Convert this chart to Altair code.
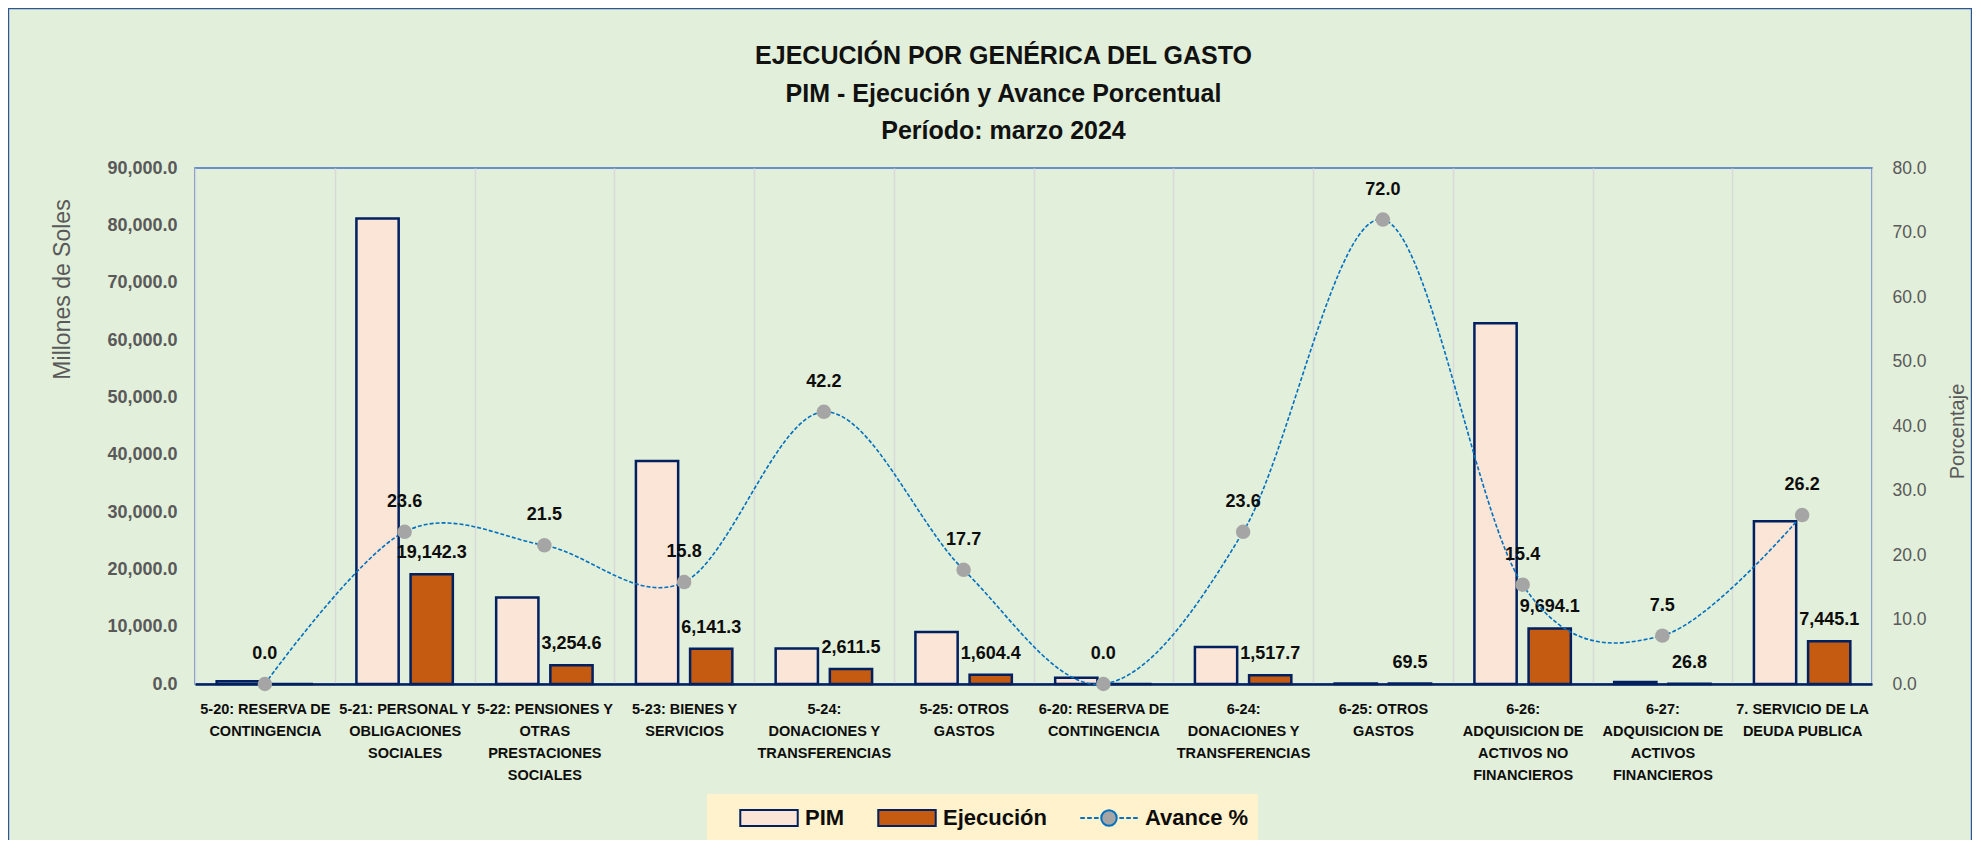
import altair as alt
import pandas as pd

# ---------------- data ----------------
categorias = [
    "5-20: RESERVA DE|CONTINGENCIA",
    "5-21: PERSONAL Y|OBLIGACIONES|SOCIALES",
    "5-22: PENSIONES Y|OTRAS|PRESTACIONES|SOCIALES",
    "5-23: BIENES Y|SERVICIOS",
    "5-24:|DONACIONES Y|TRANSFERENCIAS",
    "5-25: OTROS|GASTOS",
    "6-20: RESERVA DE|CONTINGENCIA",
    "6-24:|DONACIONES Y|TRANSFERENCIAS",
    "6-25: OTROS|GASTOS",
    "6-26:|ADQUISICION DE|ACTIVOS NO|FINANCIEROS",
    "6-27:|ADQUISICION DE|ACTIVOS|FINANCIEROS",
    "7. SERVICIO DE LA|DEUDA PUBLICA",
]
pim = [500, 81200, 15100, 38900, 6190, 9060, 1100, 6450, 97, 62900, 360, 28400]
ejecucion = [0.0, 19142.3, 3254.6, 6141.3, 2611.5, 1604.4, 0.0, 1517.7, 69.5, 9694.1, 26.8, 7445.1]
avance = [0.0, 23.6, 21.5, 15.8, 42.2, 17.7, 0.0, 23.6, 72.0, 15.4, 7.5, 26.2]
series = ["PIM", "Ejecución", "Avance %"]
titulo = ["EJECUCIÓN POR GENÉRICA DEL GASTO", "PIM - Ejecución y Avance Porcentual", "Período: marzo 2024"]
ticks_soles = [0, 10000, 20000, 30000, 40000, 50000, 60000, 70000, 80000, 90000]
ticks_pct = [0, 10, 20, 30, 40, 50, 60, 70, 80]

# ---------------- tables ----------------
bars_df = pd.DataFrame({
    "cat": categorias * 2,
    "serie": ["PIM"] * len(categorias) + ["Ejecución"] * len(categorias),
    "valor": pim + ejecucion,
})
ejec_df = pd.DataFrame({"cat": categorias, "serie": "Ejecución", "valor": ejecucion})
av_df = pd.DataFrame({"cat": categorias, "serie": "Avance %", "avance": avance})

FONT = "Liberation Sans, Arial, sans-serif"
W, H = 1677, 516

RECT = "M-1,-0.28H1V0.28H-1Z"
AVP = ("M-1,0H-0.84M-0.76,0H-0.6M-0.52,0H-0.36"
       "M0.36,0H0.52M0.6,0H0.76M0.84,0H1"
       "M0.27,0A0.27,0.27 0 1,1 -0.27,0A0.27,0.27 0 1,1 0.27,0Z")

leg = alt.Legend(
    title=None, orient="none", legendX=512, legendY=626, direction="horizontal",
    symbolSize=3300, symbolStrokeWidth=2, symbolOpacity=1, clipHeight=30,
    symbolOffset=23, labelOffset=6, columnPadding=9,
    labelFont=FONT, labelFontSize=22, labelFontWeight="bold", labelColor="#0D0D0D",
    fillColor="#FFF2CC", padding=9,
)
fill_enc = alt.Fill("serie:N", scale=alt.Scale(domain=series, range=["#FBE5D6", "#C55A11", "#A5A5A5"]), legend=leg)
stroke_enc = alt.Stroke("serie:N", scale=alt.Scale(domain=series, range=["#002060", "#002060", "#0070C0"]), legend=leg)
shape_enc = alt.Shape("serie:N", scale=alt.Scale(domain=series, range=[RECT, RECT, AVP]), legend=leg)

x_enc = alt.X(
    "cat:N", sort=categorias, scale=alt.Scale(paddingInner=0, paddingOuter=0),
    axis=alt.Axis(
        title=None, labelExpr="split(datum.label, '|')", labelAngle=0,
        labelFont=FONT, labelFontSize=14.5, labelFontWeight="bold", labelColor="#0D0D0D",
        labelLineHeight=22, labelPadding=18, labelLimit=400, labelOverlap=False,
        ticks=False, domainColor="#002060", domainWidth=2.5,
        grid=True, gridColor="#D9D9D9", gridWidth=1.5, tickBand="extent",
    ),
)
xoff_enc = alt.XOffset(
    "serie:N", sort=["PIM", "Ejecución"],
    scale=alt.Scale(domain=["PIM", "Ejecución"], paddingInner=0.22, paddingOuter=0.4),
)
y_left = alt.Y(
    "valor:Q", scale=alt.Scale(domain=[0, 90000], nice=False),
    axis=alt.Axis(
        title="Millones de Soles", values=ticks_soles, format=",.1f",
        labelFont=FONT, labelFontSize=18, labelFontWeight="bold", labelColor="#595959",
        labelPadding=18, ticks=False, domain=False, grid=False,
        titleFont=FONT, titleFontSize=23, titleFontWeight="normal", titleColor="#595959",
        titleAngle=270, titleX=-133, titleY=121, titleBaseline="middle", titleAlign="center",
    ),
)
y_right = alt.Y(
    "avance:Q", scale=alt.Scale(domain=[0, 80], nice=False),
    axis=alt.Axis(
        orient="right", title="Porcentaje", values=ticks_pct, format=".1f",
        labelFont=FONT, labelFontSize=17.5, labelFontWeight="normal", labelColor="#595959",
        labelPadding=20, ticks=False, domain=False, grid=False,
        titleFont=FONT, titleFontSize=20, titleFontWeight="normal", titleColor="#595959",
        titleAngle=270, titleX=85, titleY=263, titleBaseline="middle", titleAlign="center",
    ),
)

# outer chart frame (decoration only)
frame = alt.Chart(pd.DataFrame({"k": [0]})).mark_rect(
    filled=False, stroke="#2F5597", strokeWidth=1.2
).encode(x=alt.value(-186.4), x2=alt.value(W + 99.4), y=alt.value(-159.4), y2=alt.value(H + 200))

bars = alt.Chart(bars_df).mark_bar(strokeWidth=2.5, opacity=1).encode(
    x=x_enc, xOffset=xoff_enc, y=y_left, fill=fill_enc, stroke=stroke_enc,
)
ejec_labels = alt.Chart(ejec_df).transform_filter("datum.valor > 0").mark_text(
    dy=-21, font=FONT, fontSize=18, fontWeight="bold", color="#0D0D0D"
).encode(x=x_enc, xOffset=xoff_enc, y=alt.Y("valor:Q"), text=alt.Text("valor:Q", format=",.1f"))

legend_stub = alt.Chart(av_df).transform_filter("false").mark_point(filled=True, opacity=1).encode(
    fill=fill_enc, stroke=stroke_enc, shape=shape_enc,
)

line = alt.Chart(av_df).mark_line(interpolate="cardinal", strokeDash=[4, 2], strokeWidth=1.6).encode(
    x=x_enc, y=y_right, stroke=stroke_enc,
)
points = alt.Chart(av_df).mark_circle(size=210, opacity=1, color="#A5A5A5").encode(
    x=x_enc, y=alt.Y("avance:Q"),
)
av_labels = alt.Chart(av_df).mark_text(
    dy=-30, font=FONT, fontSize=18, fontWeight="bold", color="#0D0D0D"
).encode(x=x_enc, y=alt.Y("avance:Q"), text=alt.Text("avance:Q", format=".1f"))

left = alt.layer(frame, bars, ejec_labels, legend_stub)
right = alt.layer(line, points, av_labels)

chart = alt.layer(left, right).resolve_scale(y="independent").properties(
    width=W, height=H,
    title=alt.TitleParams(
        text=titulo, font=FONT, fontSize=25, fontWeight="bold", color="#111111",
        anchor="middle", frame="group", dx=-30, lineHeight=37.5, offset=-136,
    ),
    autosize=alt.AutoSizeParams(type="none"),
    padding={"left": 187, "top": 160, "right": 100, "bottom": 156},
).configure(background="#E2EFDA").configure_view(
    fill="white", stroke="#4472C4", strokeWidth=1.5
)

chart.save("out.html", embed_options={"renderer": "svg", "actions": False})
